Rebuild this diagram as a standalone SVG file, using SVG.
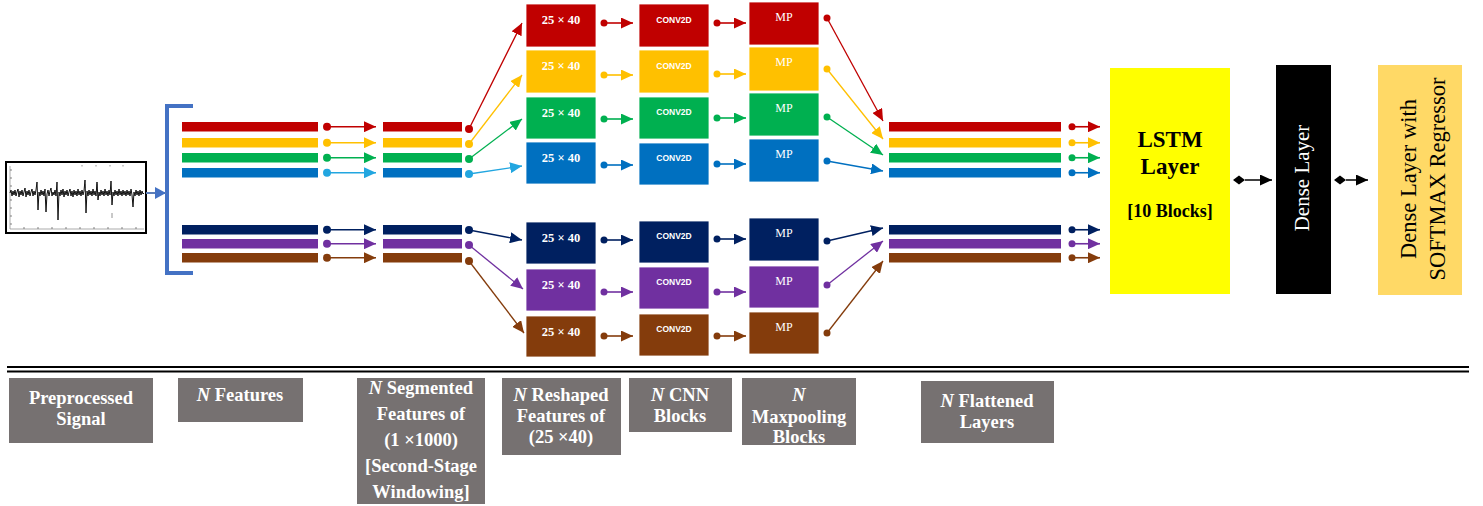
<svg xmlns="http://www.w3.org/2000/svg" width="1483" height="506" viewBox="0 0 1483 506">
<style>
.lbl{fill:#767171}
.lt{font-family:"Liberation Serif","Times New Roman",serif;font-weight:bold;font-size:18.5px;fill:#fff;text-anchor:middle}
.bt{font-family:"Liberation Serif","Times New Roman",serif;font-weight:bold;font-size:12.5px;fill:#fff;text-anchor:middle}
.ct{font-family:"Liberation Sans",Arial,sans-serif;font-weight:bold;font-size:8.5px;fill:#fff;text-anchor:middle}
.mt{font-family:"Liberation Serif","Times New Roman",serif;font-size:12px;fill:#fff;text-anchor:middle}
.box{stroke:#fff;stroke-width:0.8}
.ln{fill:none;stroke-width:1.3}
.sl{fill:none;stroke-width:1.6}
.red{fill:#C00000}.yel{fill:#FFC000}.grn{fill:#00B050}.blu{fill:#0070C0}.nav{fill:#002060}.pur{fill:#7030A0}.brn{fill:#843C0C}.lbl2{fill:#22A6E0}
</style>
<defs>
<marker id="aR" markerUnits="userSpaceOnUse" markerWidth="12" markerHeight="11" viewBox="0 0 12 11" refX="12" refY="5.5" orient="auto"><path d="M0,0L12,5.5L0,11z" fill="#C00000"/></marker>
<marker id="aY" markerUnits="userSpaceOnUse" markerWidth="12" markerHeight="11" viewBox="0 0 12 11" refX="12" refY="5.5" orient="auto"><path d="M0,0L12,5.5L0,11z" fill="#FFC000"/></marker>
<marker id="aG" markerUnits="userSpaceOnUse" markerWidth="12" markerHeight="11" viewBox="0 0 12 11" refX="12" refY="5.5" orient="auto"><path d="M0,0L12,5.5L0,11z" fill="#00B050"/></marker>
<marker id="aB" markerUnits="userSpaceOnUse" markerWidth="12" markerHeight="11" viewBox="0 0 12 11" refX="12" refY="5.5" orient="auto"><path d="M0,0L12,5.5L0,11z" fill="#0070C0"/></marker>
<marker id="aL" markerUnits="userSpaceOnUse" markerWidth="12" markerHeight="11" viewBox="0 0 12 11" refX="12" refY="5.5" orient="auto"><path d="M0,0L12,5.5L0,11z" fill="#22A6E0"/></marker>
<marker id="aN" markerUnits="userSpaceOnUse" markerWidth="12" markerHeight="11" viewBox="0 0 12 11" refX="12" refY="5.5" orient="auto"><path d="M0,0L12,5.5L0,11z" fill="#002060"/></marker>
<marker id="aP" markerUnits="userSpaceOnUse" markerWidth="12" markerHeight="11" viewBox="0 0 12 11" refX="12" refY="5.5" orient="auto"><path d="M0,0L12,5.5L0,11z" fill="#7030A0"/></marker>
<marker id="aW" markerUnits="userSpaceOnUse" markerWidth="12" markerHeight="11" viewBox="0 0 12 11" refX="12" refY="5.5" orient="auto"><path d="M0,0L12,5.5L0,11z" fill="#843C0C"/></marker>
<marker id="aK" markerUnits="userSpaceOnUse" markerWidth="12" markerHeight="11" viewBox="0 0 12 11" refX="12" refY="5.5" orient="auto"><path d="M0,0L12,5.5L0,11z" fill="#000"/></marker>
<marker id="aS" markerUnits="userSpaceOnUse" markerWidth="11" markerHeight="12" viewBox="0 0 11 12" refX="11" refY="6" orient="auto"><path d="M0,0L11,6L0,12z" fill="#4472C4"/></marker>
</defs>
<rect width="1483" height="506" fill="#fff"/>

<g id="signal">
<rect x="6" y="162" width="140" height="71" fill="#fff" stroke="#000" stroke-width="2"/>
<path d="M10,166V229H144" fill="none" stroke="#888" stroke-width="0.7"/>
<path d="M10,170h2M10,178h2M10,186h2M10,200h2M10,208h2M10,216h2M10,224h2M24,229v-2M38,229v-2M52,229v-2M66,229v-2M80,229v-2M94,229v-2M108,229v-2M122,229v-2M136,229v-2" stroke="#666" stroke-width="0.8"/>
<path d="M82,165v1.5M96,165v1.5M110,165v1.5M123,165v1.5M112,213v5M85,184v4M97,184v4" stroke="#777" stroke-width="0.8"/>
<polyline fill="none" stroke="#111" stroke-width="1" points="10,193 11,190 12,196 13,191 14,195 15,190 16,196 17,192 18,189 19,197 20,191 21,195 22,190 23,196 24,192 25,188 26,197 27,191 28,195 29,190 30,196 31,192 32,189 33,196 34,191 35,195 36,190 37,182 38,210 39,192 40,196 41,190 42,195 43,191 44,196 45,189 46,212 47,194 48,190 49,196 50,191 51,188 52,196 53,192 54,195 55,190 56,196 57,182 58,220 59,192 60,196 61,190 62,195 63,189 64,197 65,191 66,195 67,190 68,196 69,192 70,189 71,196 72,191 73,197 74,190 75,195 76,191 77,196 78,189 79,195 80,191 81,196 82,190 83,195 84,191 85,180 86,213 87,191 88,196 89,190 90,195 91,191 92,196 93,189 94,195 95,191 96,196 97,182 98,200 99,192 100,196 101,190 102,195 103,191 104,196 105,189 106,195 107,191 108,196 109,190 110,195 111,181 112,205 113,192 114,196 115,190 116,195 117,191 118,196 119,189 120,195 121,191 122,196 123,190 124,195 125,191 126,196 127,190 128,195 129,191 130,196 131,189 132,195 133,207 134,192 135,196 136,190 137,195 138,191 139,196 140,190 141,195 142,191 143,194 144,193"/>
</g>

<g id="bracket">
<path d="M193,106H167V273H193" fill="none" stroke="#4472C4" stroke-width="4"/>
</g>

<g id="feature-bars">
<rect x="182" y="122" width="136" height="9.5" class="red"/>
<rect x="182" y="138" width="136" height="9.5" class="yel"/>
<rect x="182" y="153" width="136" height="9.5" class="grn"/>
<rect x="182" y="168" width="136" height="9.5" class="blu"/>
<rect x="182" y="225" width="136" height="9.5" class="nav"/>
<rect x="182" y="239" width="136" height="9.5" class="pur"/>
<rect x="182" y="253" width="136" height="9.5" class="brn"/>
</g>

<g id="segmented-bars">
<rect x="383" y="122" width="79" height="9.5" class="red"/>
<rect x="383" y="138" width="79" height="9.5" class="yel"/>
<rect x="383" y="153" width="79" height="9.5" class="grn"/>
<rect x="383" y="168" width="79" height="9.5" class="blu"/>
<rect x="383" y="225" width="79" height="9.5" class="nav"/>
<rect x="383" y="239" width="79" height="9.5" class="pur"/>
<rect x="383" y="253" width="79" height="9.5" class="brn"/>
</g>

<g id="reshaped-blocks">
<rect x="526" y="4" width="70" height="43" class="box red"/><text x="561" y="24" class="bt">25 × 40</text>
<rect x="526" y="50" width="70" height="43" class="box yel"/><text x="561" y="70" class="bt">25 × 40</text>
<rect x="526" y="97" width="70" height="42" class="box grn"/><text x="561" y="116.5" class="bt">25 × 40</text>
<rect x="526" y="142" width="70" height="42" class="box blu"/><text x="561" y="161.5" class="bt">25 × 40</text>
<rect x="526" y="222" width="70" height="42" class="box nav"/><text x="561" y="242" class="bt">25 × 40</text>
<rect x="526" y="269" width="70" height="42" class="box pur"/><text x="561" y="289" class="bt">25 × 40</text>
<rect x="526" y="316" width="70" height="41" class="box brn"/><text x="561" y="336" class="bt">25 × 40</text>
</g>

<g id="cnn-blocks">
<rect x="639" y="4" width="70" height="43" class="box red"/><text x="674" y="22.5" class="ct">CONV2D</text>
<rect x="639" y="50" width="70" height="43" class="box yel"/><text x="674" y="68.5" class="ct">CONV2D</text>
<rect x="639" y="97" width="70" height="42" class="box grn"/><text x="674" y="115" class="ct">CONV2D</text>
<rect x="639" y="143" width="70" height="42" class="box blu"/><text x="674" y="161" class="ct">CONV2D</text>
<rect x="639" y="221" width="70" height="42" class="box nav"/><text x="674" y="239" class="ct">CONV2D</text>
<rect x="639" y="267" width="70" height="42" class="box pur"/><text x="674" y="285" class="ct">CONV2D</text>
<rect x="639" y="314" width="70" height="42" class="box brn"/><text x="674" y="332" class="ct">CONV2D</text>
</g>

<g id="mp-blocks">
<rect x="749" y="2" width="70" height="43" class="box red"/><text x="784" y="21" class="mt">MP</text>
<rect x="749" y="47" width="70" height="44" class="box yel"/><text x="784" y="66" class="mt">MP</text>
<rect x="749" y="93" width="70" height="43" class="box grn"/><text x="784" y="112" class="mt">MP</text>
<rect x="749" y="139" width="70" height="43" class="box blu"/><text x="784" y="158" class="mt">MP</text>
<rect x="749" y="218" width="70" height="43" class="box nav"/><text x="784" y="237" class="mt">MP</text>
<rect x="749" y="266" width="70" height="42" class="box pur"/><text x="784" y="284.5" class="mt">MP</text>
<rect x="749" y="312" width="70" height="42" class="box brn"/><text x="784" y="330.5" class="mt">MP</text>
</g>

<g id="flattened-bars">
<rect x="889" y="122" width="172" height="9.5" class="red"/>
<rect x="889" y="138" width="172" height="9.5" class="yel"/>
<rect x="889" y="153" width="172" height="9.5" class="grn"/>
<rect x="889" y="168" width="172" height="9.5" class="blu"/>
<rect x="889" y="225" width="172" height="9.5" class="nav"/>
<rect x="889" y="239" width="172" height="9.5" class="pur"/>
<rect x="889" y="253" width="172" height="9.5" class="brn"/>
</g>

<g id="lstm">
<rect x="1110" y="68" width="120" height="226" fill="#FFFF00"/>
<text x="1170" y="147" class="lt" style="font-size:23px;fill:#000">LSTM</text>
<text x="1170" y="174" class="lt" style="font-size:23px;fill:#000">Layer</text>
<text x="1170" y="217" class="lt" style="font-size:18px;fill:#000">[10 Blocks]</text>
</g>

<g id="dense">
<rect x="1276" y="65" width="55" height="229" fill="#000"/>
<text transform="translate(1309,178) rotate(-90)" text-anchor="middle" style="font-family:'Liberation Serif','Times New Roman',serif;font-size:21px;fill:#fff">Dense Layer</text>
</g>

<g id="softmax">
<rect x="1378" y="65" width="84" height="230" fill="#FFD966"/>
<text transform="translate(1416,179) rotate(-90)" text-anchor="middle" style="font-family:'Liberation Serif','Times New Roman',serif;font-size:22.5px;fill:#000">Dense Layer with</text>
<text transform="translate(1445,179) rotate(-90)" text-anchor="middle" style="font-family:'Liberation Serif','Times New Roman',serif;font-size:22.5px;fill:#000">SOFTMAX Regressor</text>
</g>

<g id="connectors">
<path d="M146,193H166" stroke="#5B7DB8" stroke-width="2" marker-end="url(#aS)"/>
<!-- stage 1 -->
<circle cx="327" cy="126.75" r="4" class="red"/><path d="M330,126.75H376" stroke="#C00000" class="sl" marker-end="url(#aR)"/>
<circle cx="327" cy="142.75" r="4" class="yel"/><path d="M330,142.75H376" stroke="#FFC000" class="sl" marker-end="url(#aY)"/>
<circle cx="327" cy="157.75" r="4" class="grn"/><path d="M330,157.75H376" stroke="#00B050" class="sl" marker-end="url(#aG)"/>
<circle cx="327" cy="172.75" r="4" class="lbl2"/><path d="M330,172.75H376" stroke="#22A6E0" class="sl" marker-end="url(#aL)"/>
<circle cx="327" cy="229.75" r="4" class="nav"/><path d="M330,229.75H376" stroke="#002060" class="sl" marker-end="url(#aN)"/>
<circle cx="327" cy="243.75" r="4" class="pur"/><path d="M330,243.75H376" stroke="#7030A0" class="sl" marker-end="url(#aP)"/>
<circle cx="327" cy="257.75" r="4" class="brn"/><path d="M330,257.75H376" stroke="#843C0C" class="sl" marker-end="url(#aW)"/>
<!-- stage 2 -->
<circle cx="469" cy="129" r="4" class="red"/><path d="M469,129L522,23" stroke="#C00000" class="ln" marker-end="url(#aR)"/>
<circle cx="469" cy="144" r="4" class="yel"/><path d="M469,144L522,75" stroke="#FFC000" class="ln" marker-end="url(#aY)"/>
<circle cx="469" cy="159" r="4" class="grn"/><path d="M469,159L522,119" stroke="#00B050" class="ln" marker-end="url(#aG)"/>
<circle cx="469" cy="174" r="4" class="lbl2"/><path d="M469,174L522,166" stroke="#22A6E0" class="ln" marker-end="url(#aL)"/>
<circle cx="469" cy="230" r="4" class="nav"/><path d="M469,230L522,240" stroke="#002060" class="ln" marker-end="url(#aN)"/>
<circle cx="469" cy="245" r="4" class="pur"/><path d="M469,245L523,289" stroke="#7030A0" class="ln" marker-end="url(#aP)"/>
<circle cx="469" cy="261" r="4" class="brn"/><path d="M469,261L524,333" stroke="#843C0C" class="ln" marker-end="url(#aW)"/>
<!-- stage 3 -->
<circle cx="604" cy="23" r="3.5" class="red"/><path d="M606,23H633" stroke="#C00000" class="sl" marker-end="url(#aR)"/>
<circle cx="604" cy="75" r="3.5" class="yel"/><path d="M606,75H633" stroke="#FFC000" class="sl" marker-end="url(#aY)"/>
<circle cx="604" cy="119" r="3.5" class="grn"/><path d="M606,119H633" stroke="#00B050" class="sl" marker-end="url(#aG)"/>
<circle cx="604" cy="165" r="3.5" class="blu"/><path d="M606,165H633" stroke="#0070C0" class="sl" marker-end="url(#aB)"/>
<circle cx="604" cy="240" r="3.5" class="nav"/><path d="M606,240H633" stroke="#002060" class="sl" marker-end="url(#aN)"/>
<circle cx="604" cy="292" r="3.5" class="pur"/><path d="M606,292H633" stroke="#7030A0" class="sl" marker-end="url(#aP)"/>
<circle cx="604" cy="336" r="3.5" class="brn"/><path d="M606,336H633" stroke="#843C0C" class="sl" marker-end="url(#aW)"/>
<!-- stage 4 -->
<circle cx="717" cy="23" r="3.5" class="red"/><path d="M719,23H746" stroke="#C00000" class="sl" marker-end="url(#aR)"/>
<circle cx="717" cy="74" r="3.5" class="yel"/><path d="M719,74H746" stroke="#FFC000" class="sl" marker-end="url(#aY)"/>
<circle cx="717" cy="118" r="3.5" class="grn"/><path d="M719,118H746" stroke="#00B050" class="sl" marker-end="url(#aG)"/>
<circle cx="717" cy="164" r="3.5" class="blu"/><path d="M719,164H746" stroke="#0070C0" class="sl" marker-end="url(#aB)"/>
<circle cx="717" cy="239" r="3.5" class="nav"/><path d="M719,239H746" stroke="#002060" class="sl" marker-end="url(#aN)"/>
<circle cx="717" cy="292" r="3.5" class="pur"/><path d="M719,292H746" stroke="#7030A0" class="sl" marker-end="url(#aP)"/>
<circle cx="717" cy="336" r="3.5" class="brn"/><path d="M719,336H746" stroke="#843C0C" class="sl" marker-end="url(#aW)"/>
<!-- stage 5 -->
<circle cx="827" cy="18" r="3.5" class="red"/><path d="M827,18L883,121" stroke="#C00000" class="ln" marker-end="url(#aR)"/>
<circle cx="827" cy="69" r="3.5" class="yel"/><path d="M827,69L883,139" stroke="#FFC000" class="ln" marker-end="url(#aY)"/>
<circle cx="827" cy="117" r="3.5" class="grn"/><path d="M827,117L883,155" stroke="#00B050" class="ln" marker-end="url(#aG)"/>
<circle cx="827" cy="161" r="3.5" class="blu"/><path d="M827,161L883,171" stroke="#0070C0" class="ln" marker-end="url(#aB)"/>
<circle cx="827" cy="241" r="3.5" class="nav"/><path d="M827,241L883,228" stroke="#002060" class="ln" marker-end="url(#aN)"/>
<circle cx="827" cy="285" r="3.5" class="pur"/><path d="M827,285L883,241" stroke="#7030A0" class="ln" marker-end="url(#aP)"/>
<circle cx="827" cy="333" r="3.5" class="brn"/><path d="M827,333L883,261" stroke="#843C0C" class="ln" marker-end="url(#aW)"/>
<!-- stage 6 -->
<circle cx="1072" cy="126.75" r="3.5" class="red"/><path d="M1074,126.75H1100" stroke="#C00000" class="sl" marker-end="url(#aR)"/>
<circle cx="1072" cy="142.75" r="3.5" class="yel"/><path d="M1074,142.75H1100" stroke="#FFC000" class="sl" marker-end="url(#aY)"/>
<circle cx="1072" cy="157.75" r="3.5" class="grn"/><path d="M1074,157.75H1100" stroke="#00B050" class="sl" marker-end="url(#aG)"/>
<circle cx="1072" cy="172.75" r="3.5" class="blu"/><path d="M1074,172.75H1100" stroke="#0070C0" class="sl" marker-end="url(#aB)"/>
<circle cx="1072" cy="229.75" r="3.5" class="nav"/><path d="M1074,229.75H1100" stroke="#002060" class="sl" marker-end="url(#aN)"/>
<circle cx="1072" cy="243.75" r="3.5" class="pur"/><path d="M1074,243.75H1100" stroke="#7030A0" class="sl" marker-end="url(#aP)"/>
<circle cx="1072" cy="257.75" r="3.5" class="brn"/><path d="M1074,257.75H1100" stroke="#843C0C" class="sl" marker-end="url(#aW)"/>
<!-- black -->
<path d="M1233,180L1239,175.5L1245,180L1239,184.5z" fill="#000"/><path d="M1245,180H1272" stroke="#000" stroke-width="1.5" marker-end="url(#aK)"/>
<path d="M1334,180L1340,175.5L1346,180L1340,184.5z" fill="#000"/><path d="M1346,180H1368" stroke="#000" stroke-width="1.5" marker-end="url(#aK)"/>
</g>

<g id="separator">
<path d="M7,367H1469" stroke="#000" stroke-width="2.2"/>
<path d="M7,371.5H1469" stroke="#000" stroke-width="2"/>
</g>

<g id="label-preprocessed">
<rect x="9" y="378" width="144" height="65" class="lbl"/>
<text x="81" y="404" class="lt">Preprocessed</text>
<text x="81" y="425" class="lt">Signal</text>
</g>
<g id="label-features">
<rect x="178" y="378" width="125" height="44" class="lbl"/>
<text x="240" y="401" class="lt"><tspan font-style="italic">N</tspan> Features</text>
</g>
<g id="label-segmented">
<rect x="357" y="378" width="128" height="126" class="lbl"/>
<text x="421" y="394" class="lt"><tspan font-style="italic">N</tspan> Segmented</text>
<text x="421" y="420" class="lt">Features of</text>
<text x="421" y="446" class="lt">(1 ×1000)</text>
<text x="421" y="472" class="lt">[Second-Stage</text>
<text x="421" y="498" class="lt">Windowing]</text>
</g>
<g id="label-reshaped">
<rect x="502" y="378" width="119" height="77" class="lbl"/>
<text x="561" y="401" class="lt"><tspan font-style="italic">N</tspan> Reshaped</text>
<text x="561" y="422" class="lt">Features of</text>
<text x="561" y="443" class="lt">(25 ×40)</text>
</g>
<g id="label-cnn">
<rect x="629" y="378" width="103" height="54" class="lbl"/>
<text x="680" y="401" class="lt"><tspan font-style="italic">N</tspan> CNN</text>
<text x="680" y="422" class="lt">Blocks</text>
</g>
<g id="label-maxpool">
<rect x="742" y="378" width="114" height="67" class="lbl"/>
<text x="799" y="401" class="lt" font-style="italic">N</text>
<text x="799" y="423" class="lt">Maxpooling</text>
<text x="799" y="443" class="lt">Blocks</text>
</g>
<g id="label-flattened">
<rect x="921" y="381" width="133" height="62" class="lbl"/>
<text x="987" y="407" class="lt"><tspan font-style="italic">N</tspan> Flattened</text>
<text x="987" y="428" class="lt">Layers</text>
</g>
</svg>
